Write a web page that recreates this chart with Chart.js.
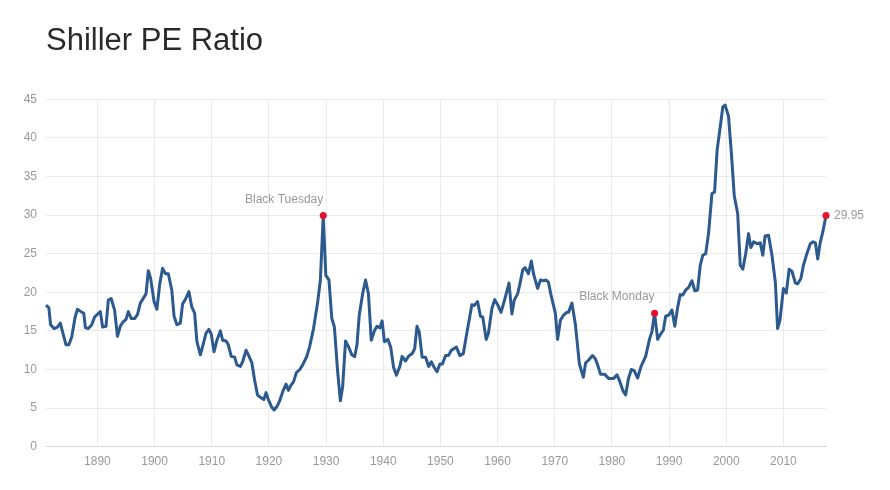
<!DOCTYPE html>
<html>
<head>
<meta charset="utf-8">
<title>Shiller PE Ratio</title>
<script src="https://cdn.jsdelivr.net/npm/chart.js@4.4.1/dist/chart.umd.min.js"></script>
<style>
    html, body { margin: 0; padding: 0; background: #fff; }
    #wrap { position: relative; width: 890px; height: 490px; }
    #title {
        position: absolute; left: 46px; top: 24px;
        font-family: "Liberation Sans", Arial, sans-serif;
        font-size: 31px; line-height: 31px; color: #2a2a2a;
    }
    canvas { position: absolute; left: 0; top: 0; }
</style>
</head>
<body>
<div id="wrap">
    <canvas id="peChart" width="890" height="490"></canvas>
    <div id="title">Shiller PE Ratio</div>
</div>
<script>
// Shiller PE values (fractional year, ratio)
const years = [
    1881.0, 1881.5, 1881.8, 1882.4, 1883.0, 1883.5, 1884.5, 1885.0, 1885.5, 1886.1,
    1886.5, 1887.3, 1887.6, 1887.9, 1888.4, 1889.0, 1889.5, 1890.5, 1890.9, 1891.5,
    1891.9, 1892.4, 1893.0, 1893.5, 1894.0, 1894.4, 1895.0, 1895.4, 1895.9, 1896.5,
    1897.0, 1897.5, 1898.5, 1898.9, 1899.3, 1899.9, 1900.4, 1900.9, 1901.4, 1901.9,
    1902.4, 1903.0, 1903.4, 1903.9, 1904.5, 1904.9, 1905.4, 1906.0, 1906.5, 1907.0,
    1907.4, 1908.0, 1908.4, 1909.0, 1909.5, 1909.9, 1910.4, 1910.9, 1911.5, 1911.9,
    1912.5, 1912.9, 1913.4, 1914.0, 1914.4, 1915.0, 1915.4, 1916.0, 1916.4, 1917.0,
    1917.5, 1918.0, 1918.5, 1919.1, 1919.5, 1919.9, 1920.5, 1920.9, 1921.4, 1921.8,
    1922.5, 1923.0, 1923.4, 1923.8, 1924.3, 1924.8, 1925.4, 1925.9, 1926.6, 1927.1,
    1927.8, 1928.5, 1929.0, 1929.5, 1929.95, 1930.5, 1931.0, 1931.45, 1932.0, 1932.5,
    1932.9, 1933.4, 1933.9, 1934.5, 1935.0, 1935.4, 1935.8, 1936.4, 1936.9, 1937.4,
    1937.9, 1938.5, 1938.9, 1939.4, 1939.8, 1940.2, 1940.8, 1941.3, 1941.8, 1942.3,
    1942.9, 1943.3, 1943.9, 1944.4, 1945.1, 1945.5, 1945.9, 1946.3, 1946.8, 1947.4,
    1947.95, 1948.4, 1948.9, 1949.4, 1949.9, 1950.35, 1950.9, 1951.4, 1951.9, 1952.8,
    1953.4, 1954.0, 1954.5, 1955.5, 1955.9, 1956.5, 1957.0, 1957.4, 1958.0, 1958.4,
    1959.0, 1959.5, 1960.0, 1960.6, 1961.2, 1962.0, 1962.5, 1962.9, 1963.5, 1963.85,
    1964.4, 1964.8, 1965.4, 1965.9, 1966.3, 1967.0, 1967.5, 1968.05, 1968.5, 1968.9,
    1969.3, 1970.1, 1970.5, 1971.0, 1971.5, 1972.1, 1972.4, 1973.0, 1973.6, 1974.3,
    1975.0, 1975.4, 1975.9, 1976.6, 1977.1, 1977.5, 1978.0, 1978.7, 1979.4, 1980.3,
    1980.9, 1981.3, 1981.9, 1982.4, 1982.9, 1983.4, 1983.9, 1984.5, 1985.1, 1985.9,
    1986.6, 1987.0, 1987.46, 1988.0, 1988.45, 1989.0, 1989.4, 1989.97, 1990.5, 1991.0,
    1991.5, 1991.95, 1992.4, 1992.9, 1993.4, 1994.0, 1994.5, 1994.99, 1995.45, 1995.9,
    1996.4, 1996.9, 1997.5, 1997.96, 1998.4, 1998.95, 1999.4, 1999.8, 2000.4, 2000.9,
    2001.4, 2002.0, 2002.45, 2002.9, 2003.4, 2003.9, 2004.3, 2004.8, 2005.4, 2005.95,
    2006.4, 2006.8, 2007.4, 2008.0, 2008.6, 2008.98, 2009.4, 2010.0, 2010.5, 2011.0,
    2011.5, 2012.1, 2012.5, 2013.06, 2013.5, 2014.1, 2014.7, 2015.2, 2015.6, 2016.0,
    2016.4, 2016.9, 2017.45
];
const peValues = [
    18.35, 18.0, 15.8, 15.3, 15.5, 16.0, 13.2, 13.2, 14.2, 16.8,
    17.8, 17.4, 17.3, 15.4, 15.3, 15.8, 16.8, 17.5, 15.5, 15.6,
    19.0, 19.2, 17.7, 14.3, 15.6, 16.1, 16.5, 17.5, 16.6, 16.6,
    17.1, 18.6, 19.8, 22.8, 21.8, 18.8, 17.8, 21.1, 23.1, 22.4,
    22.4, 20.3, 16.9, 15.8, 16.0, 18.5, 19.1, 20.1, 18.1, 17.3,
    13.6, 11.9, 13.0, 14.7, 15.2, 14.6, 12.3, 13.8, 15.0, 13.8,
    13.7, 13.2, 11.7, 11.6, 10.6, 10.4, 11.0, 12.5, 11.9, 10.9,
    8.6, 6.7, 6.4, 6.1, 7.0, 6.1, 5.1, 4.75, 5.2, 5.8,
    7.3, 8.1, 7.3, 7.9, 8.4, 9.6, 10.0, 10.6, 11.65, 12.9,
    15.3, 18.6, 21.6, 29.95, 22.2, 21.6, 16.6, 15.5, 9.9, 5.95,
    7.8, 13.7, 13.0, 11.9, 11.65, 13.2, 17.05, 19.85, 21.6, 19.85,
    13.8, 15.1, 15.6, 15.4, 16.3, 13.6, 13.9, 12.9, 10.3, 9.25,
    10.4, 11.7, 11.1, 11.7, 12.1, 12.7, 15.6, 14.85, 11.6, 11.6,
    10.4, 11.0, 10.3, 9.7, 10.7, 10.7, 11.8, 11.8, 12.5, 12.9,
    11.8, 12.05, 14.2, 18.4, 18.3, 18.8, 16.9, 16.8, 13.9, 14.7,
    17.9, 19.05, 18.4, 17.4, 18.95, 21.2, 17.2, 18.95, 19.8, 20.9,
    22.9, 23.2, 22.4, 24.05, 22.35, 20.5, 21.6, 21.5, 21.6, 21.3,
    19.8, 17.3, 13.9, 16.4, 17.0, 17.4, 17.4, 18.6, 15.9, 10.75,
    9.0, 10.85, 11.2, 11.8, 11.4, 10.6, 9.4, 9.4, 8.85, 8.85,
    9.3, 8.6, 7.3, 6.7, 8.85, 10.0, 9.85, 8.9, 10.4, 11.7,
    14.0, 14.9, 17.3, 13.9, 14.5, 15.1, 16.9, 17.05, 17.7, 15.6,
    18.05, 19.7, 19.65, 20.3, 20.6, 21.5, 20.2, 20.3, 23.5, 24.8,
    25.0, 27.6, 32.8, 33.0, 38.4, 41.45, 44.0, 44.25, 42.8, 38.0,
    32.5, 30.2, 23.5, 23.0, 25.0, 27.6, 25.8, 26.55, 26.3, 26.4,
    24.8, 27.3, 27.4, 24.8, 21.2, 15.3, 16.4, 20.5, 19.9, 23.0,
    22.7, 21.2, 21.1, 21.8, 23.5, 25.0, 26.3, 26.55, 26.4, 24.3,
    26.3, 27.85, 29.95
];

// Marked events
const eventYears = [1929.5, 1987.46];
const eventNames = ['Black Tuesday', 'Black Monday'];

// Axis ticks
const yearTicks = [1890, 1900, 1910, 1920, 1930, 1940, 1950, 1960, 1970, 1980, 1990, 2000, 2010];
const peTicks = [0, 5, 10, 15, 20, 25, 30, 35, 40, 45];

const lastIndex = peValues.length - 1;
const markedIndexes = eventYears.map(y => years.indexOf(y)).concat([lastIndex]);

const textFont = '12px "Liberation Sans", Arial, sans-serif';
const textColor = '#999999';

const eventLabels = {
    id: 'eventLabels',
    afterDatasetsDraw(chart) {
        const ctx = chart.ctx;
        const points = chart.getDatasetMeta(0).data;
        ctx.save();
        ctx.font = textFont;
        ctx.fillStyle = textColor;
        ctx.textBaseline = 'middle';
        eventNames.forEach((name, i) => {
            const pt = points[markedIndexes[i]];
            ctx.textAlign = 'right';
            ctx.fillText(name, pt.x, pt.y - 16);
        });
        const last = points[lastIndex];
        ctx.textAlign = 'left';
        ctx.fillText(peValues[lastIndex].toFixed(2), last.x + 8, last.y);
        ctx.restore();
    }
};

const peChart = new Chart(
    document.getElementById('peChart'),
    {
        type: 'line',
        data: {
            datasets: [{
                label: 'Shiller PE',
                data: years.map((y, i) => ({ x: y, y: peValues[i] })),
                borderColor: '#2c5a8e',
                borderWidth: 3,
                tension: 0,
                borderJoinStyle: 'round',
                clip: false,
                pointRadius: ctx => markedIndexes.includes(ctx.dataIndex) ? 3.5 : 0,
                pointHoverRadius: 0,
                pointBorderWidth: 0,
                pointBackgroundColor: '#e8112d'
            }]
        },
        options: {
            responsive: false,
            animation: false,
            layout: {
                padding: { top: 99.3, right: 64, bottom: 0, left: 0 }
            },
            plugins: {
                legend: { display: false },
                tooltip: { enabled: false }
            },
            scales: {
                x: {
                    type: 'linear',
                    min: 1881,
                    max: 2017.45,
                    afterBuildTicks: scale => {
                        scale.ticks = yearTicks.map(v => ({ value: v }));
                    },
                    afterFit: scale => { scale.height = 43.3; },
                    ticks: {
                        padding: 8,
                        color: textColor,
                        font: { family: '"Liberation Sans", Arial, sans-serif', size: 12 },
                        callback: v => String(v),
                        maxRotation: 0
                    },
                    grid: { color: '#ebebeb', drawTicks: false },
                    border: { color: '#d6d6d6' }
                },
                y: {
                    min: 0,
                    max: 45,
                    afterBuildTicks: scale => {
                        scale.ticks = peTicks.map(v => ({ value: v }));
                    },
                    afterFit: scale => { scale.width = 46; },
                    ticks: {
                        padding: 9,
                        color: textColor,
                        font: { family: '"Liberation Sans", Arial, sans-serif', size: 12 }
                    },
                    grid: { color: '#ebebeb', drawTicks: false },
                    border: { display: false }
                }
            }
        },
        plugins: [eventLabels]
    }
);
</script>
</body>
</html>
